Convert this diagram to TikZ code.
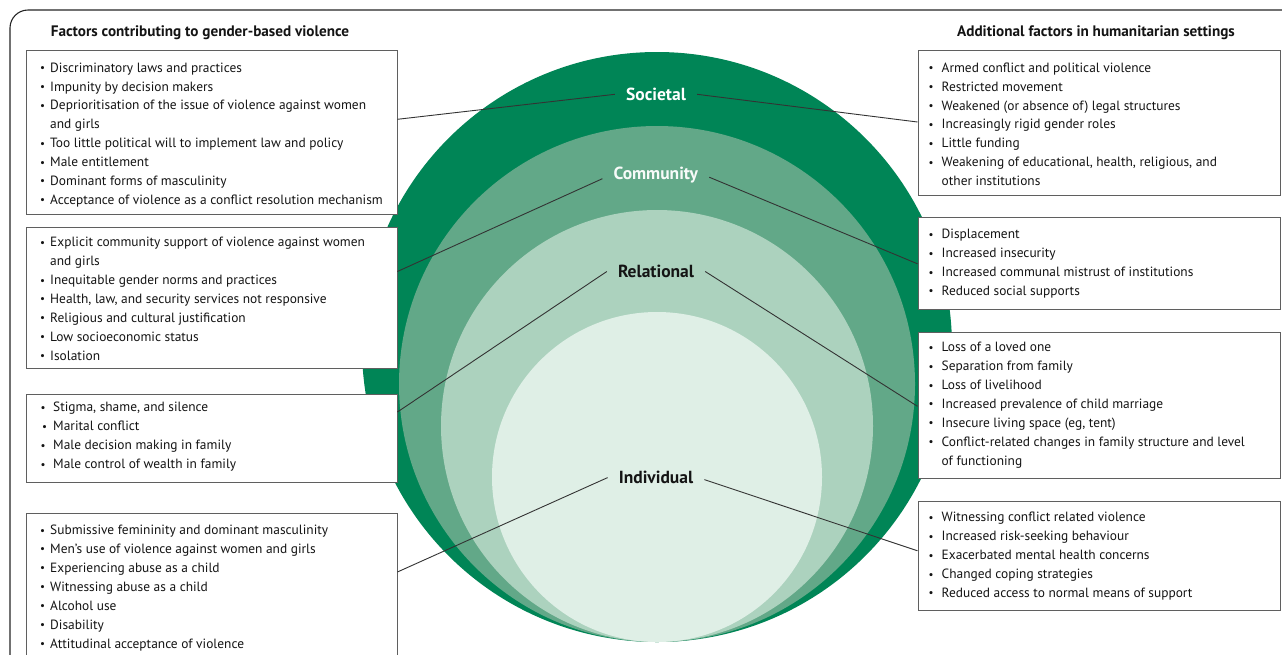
\documentclass[tikz,border=0pt]{standalone}
\usepackage{fontspec}
\setmainfont{PT Sans}
\usetikzlibrary{calc}
\definecolor{gOne}{RGB}{0,133,86}
\definecolor{gTwo}{RGB}{98,168,136}
\definecolor{gThree}{RGB}{172,210,190}
\definecolor{gFour}{RGB}{223,239,230}
\definecolor{txtc}{RGB}{20,20,20}
\definecolor{boxc}{RGB}{95,95,95}
\newcommand\bdot{\raisebox{0.6pt}{\fontsize{11}{11}\selectfont •}}
\newcommand\bulL{\makebox[9pt][l]{\hspace*{-1pt}\bdot}}
\newcommand\bulR{\makebox[13pt][l]{\bdot}}
\newcommand\inL{\hspace*{9pt}}
\newcommand\inR{\hspace*{13pt}}
\begin{document}
\begin{tikzpicture}[x=1pt,y=-1pt,
  box/.style={draw=boxc, line width=0.9pt, anchor=north west, inner sep=0pt, fill=white},
  txt/.style={anchor=north west, inner sep=0pt, align=left, text=txtc, font=\fontsize{13.4}{18.9}\selectfont},
  ttl/.style={font=\bfseries\fontsize{15.2}{17}\selectfont, text=txtc},
  lvl/.style={font=\bfseries\fontsize{17.5}{20}\selectfont, inner xsep=11pt, inner ysep=2pt},
  con/.style={draw=black!80, line width=0.9pt}]
\useasboundingbox (0,0) rectangle (1282,654);
\fill[white] (0,0) rectangle (1282,654);
\draw[black!85, line width=1.1pt, rounded corners=18pt] (1290,10) -- (10,10) -- (10,670);
% circles
\fill[gOne] (657,347) circle[radius=295pt];
\fill[gTwo] (657,384) circle[radius=258pt];
\fill[gThree] (657,426) circle[radius=216pt];
\fill[gFour] (657,477) circle[radius=165pt];
% titles
\node[ttl] (tl) at (200,32.3) {Factors contributing to gender-based violence};
\node[ttl] (tr) at (1096,33) {Additional factors in humanitarian settings};
% boxes
\node[box, minimum width=370.5pt, minimum height=164pt] (L1) at (26,50) {};
\node[box, minimum width=370.5pt, minimum height=141pt] (L2) at (26,227.3) {};
\node[box, minimum width=370.5pt, minimum height=88.5pt] (L3) at (26,393.5) {};
\node[box, minimum width=370.5pt, minimum height=200pt] (L4) at (26,512.5) {};
\node[box, minimum width=362.5pt, minimum height=145.5pt] (R1) at (917.5,49.5) {};
\node[box, minimum width=362.5pt, minimum height=92pt] (R2) at (917.5,217) {};
\node[box, minimum width=362.5pt, minimum height=146pt] (R3) at (917.5,332) {};
\node[box, minimum width=362.5pt, minimum height=109.5pt] (R4) at (917.5,500.5) {};
% texts
\node[txt] (L1t) at (41,62.5) {\bulL Discriminatory laws and practices\\
\bulL Impunity by decision makers\\
\bulL Deprioritisation of the issue of violence against women\\
\inL and girls\\
\bulL Too little political will to implement law and policy\\
\bulL Male entitlement\\
\bulL Dominant forms of masculinity\\
\bulL Acceptance of violence as a conflict resolution mechanism};
\node[txt] (L2t) at (41,237.2) {\bulL Explicit community support of violence against women\\
\inL and girls\\
\bulL Inequitable gender norms and practices\\
\bulL Health, law, and security services not responsive\\
\bulL Religious and cultural justification\\
\bulL Low socioeconomic status\\
\bulL Isolation};
\node[txt] (L3t) at (41,402.2) {\makebox[12pt][l]{\hspace*{-0.5pt}\bdot}Stigma, shame, and silence\\
\makebox[12pt][l]{\hspace*{1pt}\bdot}Marital conflict\\
\makebox[12pt][l]{\hspace*{-0.5pt}\bdot}Male decision making in family\\
\makebox[12pt][l]{\hspace*{-0.5pt}\bdot}Male control of wealth in family};
\node[txt] (L4t) at (41,524.9) {\bulL Submissive femininity and dominant masculinity\\
\bulL Men’s use of violence against women and girls\\
\bulL Experiencing abuse as a child\\
\bulL Witnessing abuse as a child\\
\bulL Alcohol use\\
\bulL Disability\\
\bulL Attitudinal acceptance of violence};
\node[txt] (R1t) at (928.5,62.5) {\bulR Armed conflict and political violence\\
\bulR Restricted movement\\
\bulR Weakened (or absence of) legal structures\\
\bulR Increasingly rigid gender roles\\
\bulR Little funding\\
\bulR Weakening of educational, health, religious, and\\
\inR other institutions};
\node[txt] (R2t) at (928.5,229.2) {\bulR Displacement\\
\bulR Increased insecurity\\
\bulR Increased communal mistrust of institutions\\
\bulR Reduced social supports};
\node[txt] (R3t) at (928.5,342.2) {\bulR Loss of a loved one\\
\bulR Separation from family\\
\bulR Loss of livelihood\\
\bulR Increased prevalence of child marriage\\
\bulR Insecure living space (eg, tent)\\
\bulR Conflict-related changes in family structure and level\\
\inR of functioning};
\node[txt] (R4t) at (928.5,512.2) {\bulR Witnessing conflict related violence\\
\bulR Increased risk-seeking behaviour\\
\bulR Exacerbated mental health concerns\\
\bulR Changed coping strategies\\
\bulR Reduced access to normal means of support};
% level labels
\node[lvl, text=white] (soc) at (656,94.3) {Societal};
\node[lvl, text=white!95!gTwo] (com) at (655.8,175.2) {Community};
\node[lvl, text=txtc] (rel) at (656,271.5) {Relational};
\node[lvl, text=txtc] (ind) at (656,477.6) {Individual};
% connectors
\draw[con] ($(L1.north east)+(0,69.3)$) -- (soc.west);
\draw[con] (soc.east) -- ($(R1.north west)+(0,72.5)$);
\draw[con] ($(L2.north east)+(0,44.2)$) -- ($(com.west)+(0,3.5)$);
\draw[con] ($(com.east)+(0,2)$) -- ($(R2.north west)+(0,46.8)$);
\draw[con] ($(L3.north east)+(0,18.5)$) -- (rel.west);
\draw[con] (rel.east) -- ($(R3.north west)+(0,74.3)$);
\draw[con] ($(L4.north east)+(0,59.5)$) -- (ind.west);
\draw[con] ($(ind.east)+(0,2)$) -- ($(R4.north west)+(0,50.3)$);
\end{tikzpicture}
\end{document}
